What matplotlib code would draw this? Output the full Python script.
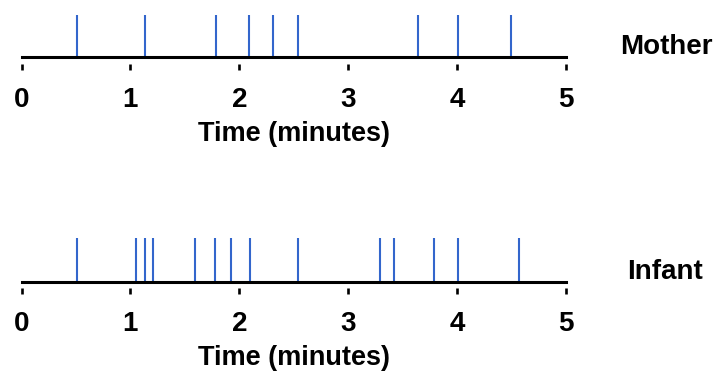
import matplotlib
matplotlib.use('Agg')
import matplotlib.pyplot as plt

# event times (minutes)
mother_times = [0.51, 1.13, 1.79, 2.09, 2.31, 2.54, 3.64, 4.01, 4.50]
infant_times = [0.51, 1.05, 1.13, 1.21, 1.59, 1.78, 1.92, 2.10, 2.54,
                3.29, 3.42, 3.79, 4.01, 4.57]
names = ['Mother', 'Infant']
tick_values = [0, 1, 2, 3, 4, 5]

plt.rcParams['font.family'] = ['Liberation Sans', 'DejaVu Sans']
plt.rcParams['font.weight'] = 'bold'
plt.rcParams['axes.labelweight'] = 'bold'

fig = plt.figure(figsize=(7.2, 3.73), dpi=100)

rects = [[0.0299, 0.846, 0.756, 0.114],
         [0.0299, 0.245, 0.756, 0.116]]
name_pos = [(620 / 720, 1 - 47 / 373), (627 / 720, 1 - 271.7 / 373)]

for rect, times, name, pos in zip(rects, [mother_times, infant_times], names, name_pos):
    ax = fig.add_axes(rect)
    ax.vlines(times, 0, 1, color='#3366cc', lw=1.5, clip_on=False)
    ax.axhline(0, color='black', lw=2.2, clip_on=False)
    ax.set_xlim(0, 5)
    ax.set_ylim(0, 1)
    for s in ax.spines.values():
        s.set_visible(False)
    ax.spines['bottom'].set_position(('outward', 4.8))
    ax.set_yticks([])
    ax.set_xticks(tick_values)
    ax.tick_params(axis='x', length=4.3, width=1.9, pad=12, labelsize=20)
    ax.set_xlabel('Time (minutes)', fontsize=19.5, labelpad=6)
    fig.text(pos[0], pos[1], name, ha='left', va='center', fontsize=20)

plt.savefig('out.png', dpi=100)
